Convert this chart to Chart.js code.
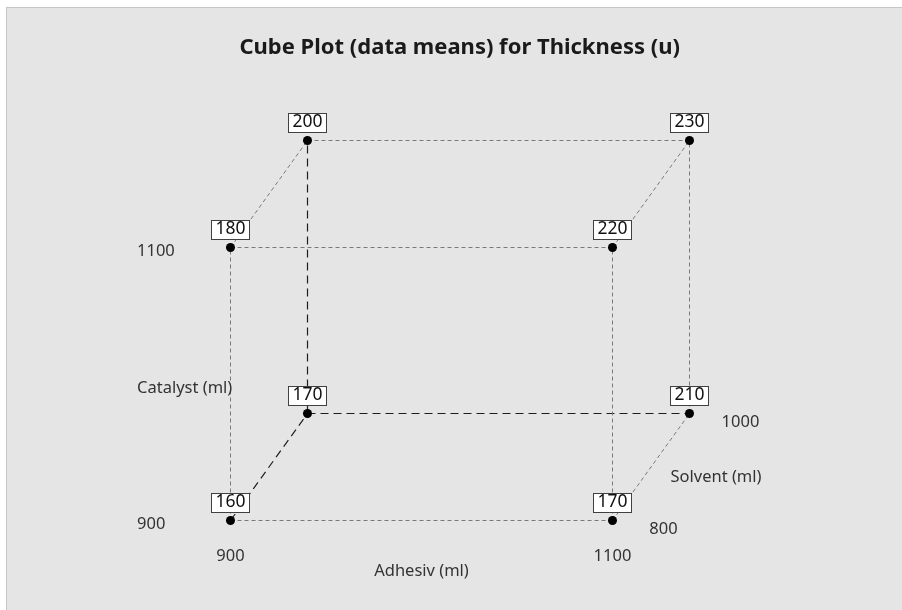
<!DOCTYPE html>
<html>
<head>
<meta charset="utf-8">
<script src="https://cdn.jsdelivr.net/npm/chart.js@4.4.1/dist/chart.umd.min.js"></script>
<style>
  html, body { margin: 0; padding: 0; background: #ffffff; }
  #fundo {
    position: absolute; left: 6px; top: 7px; right: 0; bottom: 0;
    background: #e5e5e5;
    border-left: 1px solid #c6c6c6;
    border-top: 1px solid #c6c6c6;
  }
  #wrap { position: absolute; left: 0; top: 0; width: 902px; height: 610px; }
</style>
</head>
<body>
<div id="fundo"></div>
<div id="wrap"><canvas id="cubo" width="902" height="610"></canvas></div>
<script>
// niveis dos fatores
const adhesiv = [900, 1100];
const catalyst = [900, 1100];
const solvent = [800, 1000];

// corridas (cantos do cubo) e medias
const runAdhesiv  = [900, 1100, 900, 1100, 900, 1100, 900, 1100];
const runCatalyst = [900, 900, 1100, 1100, 900, 900, 1100, 1100];
const runSolvent  = [800, 800, 800, 800, 1000, 1000, 1000, 1000];
const thickness   = [160, 170, 180, 220, 170, 210, 200, 230];

const titulo = 'Cube Plot (data means) for Thickness (u)';
const nomeAdhesiv = 'Adhesiv (ml)';
const nomeCatalyst = 'Catalyst (ml)';
const nomeSolvent = 'Solvent (ml)';

const FONTE = '"Noto Sans", "Open Sans", sans-serif';

// projecao obliqua do cubo
const KX = 77 / 382, KY = 107 / 273;
function nivel(v, arr) { return (v - arr[0]) / (arr[1] - arr[0]); }
function proj(a, c, s) { return { x: a + KX * s, y: c + KY * s }; }

const pontos = runAdhesiv.map((a, i) =>
  proj(nivel(a, adhesiv), nivel(runCatalyst[i], catalyst), nivel(runSolvent[i], solvent)));

// arestas: [canto1, canto2, escura?]
const arestas = [
  [0, 1, false], [2, 3, false], [0, 2, false], [1, 3, false],
  [4, 5, true], [6, 7, false], [4, 6, true], [5, 7, false],
  [0, 4, true], [2, 6, false], [1, 5, false], [3, 7, false]
];

const datasets = [{
  label: 'Thickness',
  data: pontos,
  pointRadius: 4.5,
  pointHoverRadius: 4.5,
  pointBackgroundColor: '#000',
  pointBorderColor: '#000',
  pointBorderWidth: 0,
  showLine: false
}];

arestas.forEach(([i, j, escura]) => {
  datasets.push({
    data: [pontos[i], pontos[j]],
    showLine: true,
    pointRadius: 0,
    borderColor: escura ? '#1e1e1e' : '#7a7a7a',
    borderWidth: escura ? 1.2 : 1,
    borderDash: escura ? [8, 5] : [4, 3]
  });
});

const rotulos = {
  id: 'rotulos',
  afterDatasetsDraw(chart) {
    const { ctx, scales: { x, y } } = chart;
    const px = (p) => ({ x: x.getPixelForValue(p.x), y: y.getPixelForValue(p.y) });
    ctx.save();

    // caixas com as medias
    ctx.font = '17.5px ' + FONTE;
    ctx.textAlign = 'center';
    ctx.textBaseline = 'middle';
    chart.getDatasetMeta(0).data.forEach((pt, i) => {
      const cx = Math.floor(pt.x) + 0.5, cy = Math.floor(pt.y) + 0.5;
      const w = 38, h = 19;
      const l = cx - 19, t = cy - 8 - h;
      ctx.fillStyle = '#ffffff';
      ctx.fillRect(l, t, w, h);
      ctx.strokeStyle = '#404040';
      ctx.lineWidth = 1;
      ctx.strokeRect(l, t, w, h);
      ctx.fillStyle = '#111';
      ctx.fillText(String(thickness[i]), cx, t + h / 2 - 1);
    });

    ctx.font = '16.5px ' + FONTE;
    ctx.fillStyle = '#333';

    // Catalyst (vertical, a esquerda)
    const base = px(proj(0, 0, 0));
    const xEsq = base.x - 93.5;
    ctx.textAlign = 'left';
    catalyst.forEach((v, k) => {
      const p = px(proj(0, k, 0));
      ctx.fillText(String(v), xEsq, p.y + 4);
    });
    ctx.fillText(nomeCatalyst, xEsq, px(proj(0, 0.5, 0)).y + 4);

    // Adhesiv (horizontal, embaixo)
    ctx.textAlign = 'center';
    adhesiv.forEach((v, k) => {
      const p = px(proj(k, 0, 0));
      ctx.fillText(String(v), p.x, p.y + 36);
    });
    ctx.fillText(nomeAdhesiv, px(proj(0.5, 0, 0)).x, base.y + 51);

    // Solvent (profundidade, a direita)
    solvent.forEach((v, k) => {
      const p = px(proj(1, 0, k));
      ctx.fillText(String(v), p.x + 51, p.y + 9);
    });
    const m = px(proj(1, 0, 0.5));
    ctx.fillText(nomeSolvent, m.x + 65, m.y + 10);

    ctx.restore();
  }
};

const chart = new Chart(document.getElementById('cubo'), {
  type: 'scatter',
  data: { datasets },
  options: {
    responsive: false,
    animation: false,
    events: [],
    layout: {
      padding: { top: 8, left: 39.5, right: 22.1, bottom: 7.6 }
    },
    scales: {
      x: { type: 'linear', min: -0.5, max: 1.7, display: false },
      y: { type: 'linear', min: -0.3, max: 1.6, display: false }
    },
    plugins: {
      legend: { display: false },
      tooltip: { enabled: false },
      title: {
        display: true,
        text: titulo,
        color: '#1a1a1a',
        font: { family: FONTE, size: 22, weight: 'bold', lineHeight: 1.2 },
        padding: { top: 26.8, bottom: 22.5 }
      }
    }
  },
  plugins: [rotulos]
});
</script>
</body>
</html>
